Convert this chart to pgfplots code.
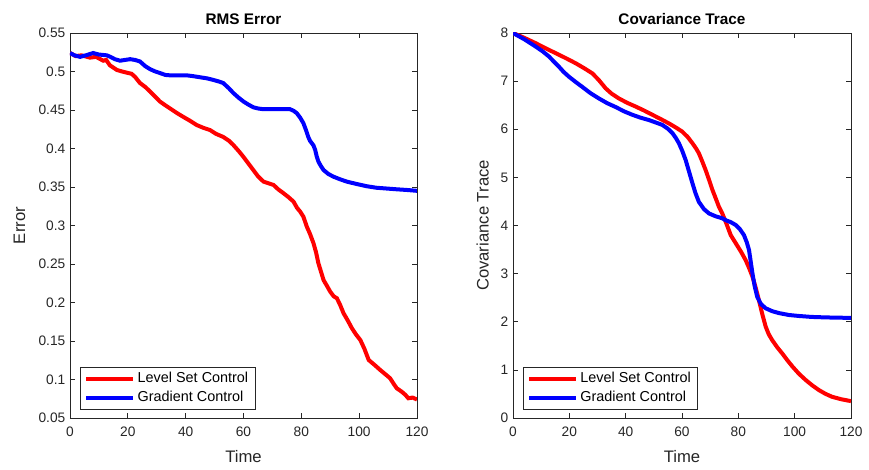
\documentclass[border=0pt]{standalone}
\usepackage{pgfplots}
\pgfplotsset{compat=1.18}
\usepackage{fontspec}
\setmainfont{Liberation Sans}
\definecolor{axgray}{rgb}{0.15,0.15,0.15}
\definecolor{lgray}{rgb}{0.15,0.15,0.15}
\pgfplotsset{
  mstyle/.style={
    scale only axis,
    height=288.75pt,
    xmin=0, xmax=120,
    xtick={0,20,...,120},
    axis line style={axgray, line width=0.5pt},
    every tick/.style={axgray, line width=0.5pt},
    tick align=inside,
    major tick length=4pt,
    ticklabel style={text=axgray, font=\fontsize{10.3}{12}\selectfont},
    xticklabel style={yshift=-3.5pt},
    /pgf/number format/assume math mode=true,
    label style={text=axgray, font=\fontsize{12.5}{14}\selectfont},
    title style={font=\bfseries\fontsize{11.5}{13}\selectfont, text=black, yshift=-3pt},
    xlabel={Time},
    xlabel style={yshift=-3pt},
    legend cell align=left,
    legend style={at={(0.029,0.022)}, anchor=south west, draw=lgray, line width=0.5pt,
      font=\fontsize{10.8}{12}\selectfont, row sep=1pt, inner xsep=3pt, inner ysep=2pt},
    legend image code/.code={\draw[#1, line width=3pt] (0pt,0pt) -- (35pt,0pt);},
  }
}
\begin{document}
\begin{tikzpicture}
\begin{axis}[mstyle, name=left, at={(0pt,0pt)}, anchor=south west,
  width=260.25pt,
  ymin=0.05, ymax=0.55,
  ytick={0.05,0.1,...,0.55},
  yticklabels={0.05,0.1,0.15,0.2,0.25,0.3,0.35,0.4,0.45,0.5,0.55},
  title={RMS Error}, ylabel={Error}, ylabel style={yshift=3pt}]
\addplot[red, line width=3pt] coordinates {
(0,0.524) (2,0.520) (4,0.521) (6.9,0.518) (9,0.519) (11.5,0.514) (12.5,0.515) (13.8,0.508) (16.2,0.502) (18,0.500) (19.6,0.4985) (21.3,0.497) (22.5,0.493) (24.2,0.485) (26,0.480) (27.7,0.474) (29,0.469) (31.1,0.461) (33,0.456) (34.6,0.452) (37,0.446) (39.2,0.441) (41.5,0.436) (43.8,0.4305) (46,0.427) (48.4,0.424) (50.5,0.419) (53,0.415) (55,0.410) (56.5,0.4045) (58.5,0.396) (60,0.389) (61.8,0.380) (63.4,0.372) (65,0.364) (66.9,0.357) (68.5,0.355) (70.4,0.3526) (72,0.347) (73.8,0.342) (75.5,0.337) (77.3,0.331) (78.5,0.323) (79.6,0.318) (80.7,0.3115) (81.9,0.2985) (83,0.289) (84.2,0.277) (85.1,0.265) (85.9,0.251) (86.8,0.240) (87.7,0.229) (88.8,0.222) (90,0.214) (91.2,0.208) (92.3,0.2055) (93.4,0.197) (94.6,0.186) (96,0.177) (97.5,0.1665) (99,0.158) (100.4,0.1513) (101.8,0.140) (103.3,0.1253) (105.3,0.119) (107.3,0.1123) (109,0.107) (110.7,0.1016) (112,0.094) (113,0.0886) (114.7,0.0842) (116,0.080) (117,0.0756) (118.5,0.0765) (120,0.074)
};
\addlegendentry{Level Set Control}
\addplot[blue, line width=3pt] coordinates {
(0,0.524) (1.5,0.521) (3.5,0.519) (5.5,0.521) (8,0.524) (10,0.522) (12.7,0.521) (14,0.519) (15.5,0.516) (17.3,0.514) (19,0.515) (20.8,0.516) (22.5,0.515) (24.2,0.513) (26,0.507) (27.7,0.503) (29.5,0.500) (31.1,0.498) (33,0.4955) (34.6,0.495) (37,0.495) (40.4,0.495) (42.5,0.494) (45,0.4925) (47.5,0.491) (49.6,0.489) (51.5,0.487) (53,0.485) (55,0.478) (56.5,0.472) (58.3,0.466) (60,0.461) (61.7,0.457) (63.4,0.4535) (65,0.452) (66.9,0.451) (69,0.451) (71.5,0.451) (74,0.451) (76.1,0.451) (77.3,0.449) (78.4,0.446) (79.6,0.440) (80.7,0.433) (81.6,0.424) (82.4,0.415) (83,0.410) (83.6,0.407) (84.2,0.404) (84.8,0.398) (85.3,0.390) (85.9,0.383) (86.8,0.377) (87.7,0.372) (89.3,0.367) (91.1,0.3634) (93.4,0.360) (95.7,0.357) (99,0.354) (102.6,0.351) (106,0.349) (109.5,0.348) (113,0.347) (117,0.346) (120,0.345)
};
\addlegendentry{Gradient Control}
\end{axis}
\begin{axis}[mstyle, name=right, at={(332.25pt,0pt)}, anchor=south west,
  width=253.5pt,
  ymin=0, ymax=8, ytick={0,1,...,8},
  title={Covariance Trace}, ylabel={Covariance Trace}, ylabel style={yshift=2pt}]
\addplot[red, line width=3pt] coordinates {
(0,8.0) (4,7.90) (8,7.79) (12,7.67) (15.2,7.58) (19,7.47) (22.3,7.37) (25.5,7.26) (28.2,7.16) (30.5,7.02) (32.9,6.85) (35,6.74) (37.6,6.64) (40.5,6.55) (43.6,6.47) (46.5,6.39) (49.5,6.30) (52.5,6.21) (55.4,6.12) (58,6.03) (60.1,5.95) (62,5.84) (63.7,5.71) (65,5.60) (66,5.50) (67.2,5.33) (68.4,5.15) (69.6,4.95) (70.8,4.74) (72,4.56) (73.1,4.39) (74.3,4.25) (75.5,4.08) (77.3,3.80) (79.1,3.63) (81,3.45) (82.6,3.28) (83.8,3.12) (85,2.94) (86.2,2.70) (87.3,2.45) (88.5,2.16) (89.7,1.90) (90.8,1.74) (92.0,1.62) (93.8,1.47) (95.6,1.34) (97.4,1.20) (99.2,1.07) (101.5,0.92) (103.9,0.79) (106.2,0.68) (108.6,0.58) (111,0.50) (113.3,0.44) (116.5,0.39) (120,0.35)
};
\addlegendentry{Level Set Control}
\addplot[blue, line width=3pt] coordinates {
(0,8.0) (4,7.87) (8,7.72) (10.5,7.62) (12.8,7.51) (14.6,7.40) (16.3,7.30) (18,7.19) (19.9,7.09) (22.3,6.98) (24.6,6.88) (27.5,6.75) (30.5,6.64) (33.5,6.54) (36.5,6.46) (39.5,6.37) (42.4,6.30) (45.3,6.24) (48.3,6.19) (50.7,6.14) (53.0,6.09) (55,6.01) (56.6,5.92) (57.8,5.82) (58.9,5.71) (60.1,5.55) (61.3,5.36) (62.5,5.12) (63.7,4.88) (64.8,4.67) (66.0,4.49) (67.8,4.34) (69.6,4.25) (72,4.19) (74.3,4.15) (75.5,4.11) (77.3,4.07) (79.1,4.01) (80.6,3.92) (82.0,3.80) (83,3.65) (83.8,3.49) (84.4,3.25) (85.0,3.01) (85.8,2.74) (86.7,2.52) (88,2.37) (89.7,2.28) (92,2.22) (94.4,2.18) (98,2.14) (101.5,2.12) (106,2.10) (111.0,2.09) (115,2.085) (120,2.08)
};
\addlegendentry{Gradient Control}
\end{axis}
\pgfresetboundingbox
\path[use as bounding box] (-52.5pt,-39pt) rectangle (599.25pt,313.5pt);
\end{tikzpicture}
\end{document}
